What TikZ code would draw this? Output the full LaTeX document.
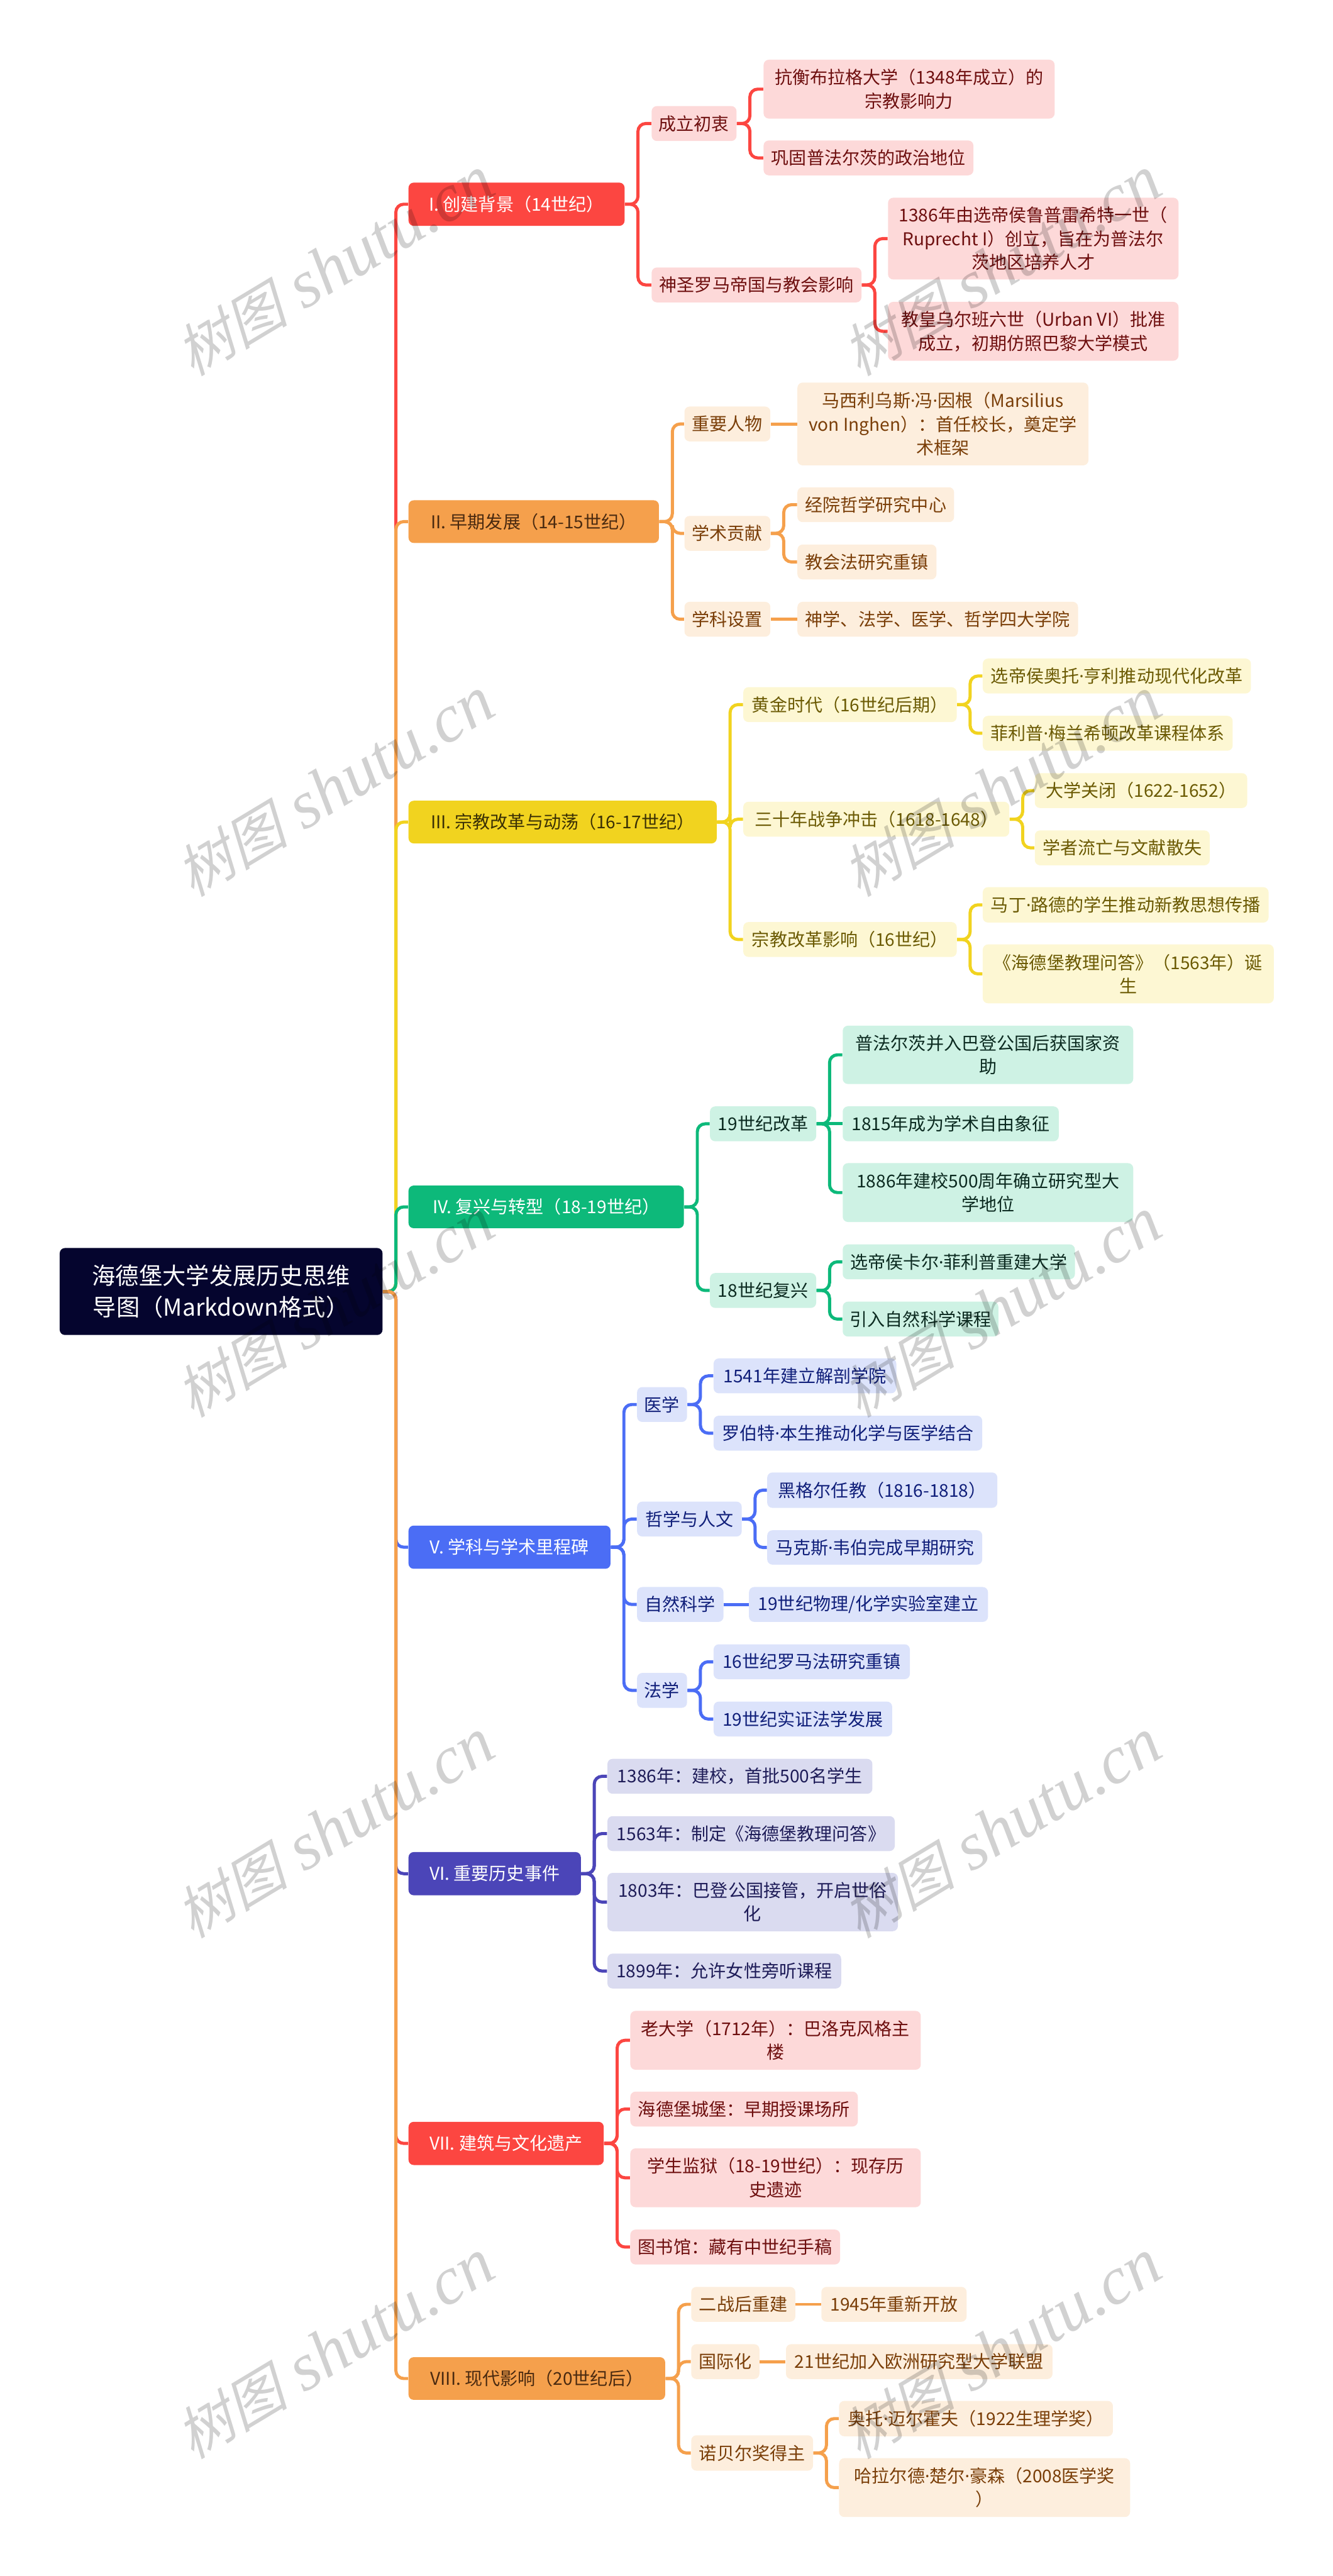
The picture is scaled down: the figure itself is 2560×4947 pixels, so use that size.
\documentclass[tikz,border=0pt]{standalone}
\usepackage{fontspec}
\setmainfont{Noto Sans CJK SC}
\newfontfamily\wmcjk[FakeSlant=0.25]{Noto Sans CJK SC}
\newfontfamily\wmlatin{Liberation Serif}[ItalicFont={Liberation Serif Italic}]
\newfontfamily\dotfont{Noto Sans}
\newcommand{\mdot}{{\dotfont ·}}
\newcommand{\wmtext}{{\wmcjk\fontsize{31}{31}\selectfont 树图}\hspace{9pt}{\wmlatin\itshape\fontsize{37}{37}\selectfont shutu.cn}}
\usepackage{xcolor}
\definecolor{rootC}{HTML}{05052E}
\definecolor{redC}{HTML}{FC4641}
\definecolor{redL}{HTML}{FDD9D9}
\definecolor{redT}{HTML}{6E0F0F}
\definecolor{oraC}{HTML}{F5A04C}
\definecolor{oraL}{HTML}{FDEEDD}
\definecolor{oraT}{HTML}{7A3E08}
\definecolor{oraH}{HTML}{4A2A10}
\definecolor{yelC}{HTML}{F1D31F}
\definecolor{yelL}{HTML}{FDF7D3}
\definecolor{yelT}{HTML}{6B5A03}
\definecolor{yelH}{HTML}{3A3005}
\definecolor{greC}{HTML}{0DB97A}
\definecolor{greL}{HTML}{CEF2E4}
\definecolor{greT}{HTML}{0B2A20}
\definecolor{bluC}{HTML}{4B6DF5}
\definecolor{bluL}{HTML}{DCE3FB}
\definecolor{bluT}{HTML}{101F7A}
\definecolor{indC}{HTML}{4B45B8}
\definecolor{indL}{HTML}{DADBF0}
\definecolor{indT}{HTML}{1E1C58}
\tikzset{
  sz/.style 2 args={minimum width=#1*0.01cm, minimum height=#2*0.01cm},
  box/.style={rectangle, rounded corners=0.1cm, inner sep=0pt, align=center, anchor=north west,
    font=\fontsize{9.64}{12.9}\selectfont},
  item/.style 2 args={box, fill=#1, text=#2},
  link/.style={draw=#1, line width=0.06cm, rounded corners=0.15cm},
  wmark/.style={text=black, opacity=0.18, rotate=31},
}
\begin{document}
\begin{tikzpicture}[x=0.01cm,y=-0.01cm]
  \useasboundingbox (0,0) rectangle (2560,4947);
  \node[box, fill=rootC, text=white, sz={620}{167}, font=\fontsize{12.8}{17}\selectfont] (root) at (114,2396) {海德堡大学发展历史思维\\导图（Markdown格式）};

  % I
  \node[item={redC}{white}, sz={415}{83}] (s1) at (784,350) {I. 创建背景（14世纪）};
  \node[item={redL}{redT}, sz={163}{67}] (s1a) at (1251,203) {成立初衷};
  \node[item={redL}{redT}, sz={559}{113}] (s1a1) at (1466,114) {抗衡布拉格大学（1348年成立）的\\宗教影响力};
  \node[item={redL}{redT}, sz={403}{67}] (s1a2) at (1466,269) {巩固普法尔茨的政治地位};
  \node[item={redL}{redT}, sz={403}{67}] (s1b) at (1251,513) {神圣罗马帝国与教会影响};
  \node[item={redL}{redT}, sz={558}{157}] (s1b1) at (1705,379) {1386年由选帝侯鲁普雷希特一世（\\Ruprecht I）创立，旨在为普法尔\\茨地区培养人才};
  \node[item={redL}{redT}, sz={558}{113}] (s1b2) at (1705,579) {教皇乌尔班六世（Urban VI）批准\\成立，初期仿照巴黎大学模式};

  % II
  \node[item={oraC}{oraH}, sz={481}{82}] (s2) at (784,960) {II. 早期发展（14-15世纪）};
  \node[item={oraL}{oraT}, sz={165}{67}] (s2a) at (1314,780) {重要人物};
  \node[item={oraL}{oraT}, sz={559}{159}] (s2a1) at (1531,734) {马西利乌斯\mdot 冯\mdot 因根（Marsilius\\von Inghen）：首任校长，奠定学\\术框架};
  \node[item={oraL}{oraT}, sz={165}{67}] (s2b) at (1314,990) {学术贡献};
  \node[item={oraL}{oraT}, sz={301}{67}] (s2b1) at (1531,935) {经院哲学研究中心};
  \node[item={oraL}{oraT}, sz={267}{67}] (s2b2) at (1531,1045) {教会法研究重镇};
  \node[item={oraL}{oraT}, sz={165}{67}] (s2c) at (1314,1155) {学科设置};
  \node[item={oraL}{oraT}, sz={539}{67}] (s2c1) at (1531,1155) {神学、法学、医学、哲学四大学院};

  % III
  \node[item={yelC}{yelH}, sz={592}{82}] (s3) at (784,1537) {III. 宗教改革与动荡（16-17世纪）};
  \node[item={yelL}{yelT}, sz={410}{67}] (s3a) at (1427,1319) {黄金时代（16世纪后期）};
  \node[item={yelL}{yelT}, sz={515}{67}] (s3a1) at (1887,1264) {选帝侯奥托\mdot 亨利推动现代化改革};
  \node[item={yelL}{yelT}, sz={480}{67}] (s3a2) at (1887,1374) {菲利普\mdot 梅兰希顿改革课程体系};
  \node[item={yelL}{yelT}, sz={511}{67}] (s3b) at (1427,1539) {三十年战争冲击（1618-1648）};
  \node[item={yelL}{yelT}, sz={408}{67}] (s3b1) at (1987,1484) {大学关闭（1622-1652）};
  \node[item={yelL}{yelT}, sz={336}{67}] (s3b2) at (1987,1594) {学者流亡与文献散失};
  \node[item={yelL}{yelT}, sz={410}{67}] (s3c) at (1427,1770) {宗教改革影响（16世纪）};
  \node[item={yelL}{yelT}, sz={549}{68}] (s3c1) at (1887,1703) {马丁\mdot 路德的学生推动新教思想传播};
  \node[item={yelL}{yelT}, sz={559}{113}] (s3c2) at (1887,1813) {《海德堡教理问答》（1563年）诞\\生};

  % IV
  \node[item={greC}{white}, sz={529}{82}] (s4) at (784,2276) {IV. 复兴与转型（18-19世纪）};
  \node[item={greL}{greT}, sz={204}{67}] (s4a) at (1363,2124) {19世纪改革};
  \node[item={greL}{greT}, sz={558}{112}] (s4a1) at (1618,1969) {普法尔茨并入巴登公国后获国家资\\助};
  \node[item={greL}{greT}, sz={415}{67}] (s4a2) at (1618,2124) {1815年成为学术自由象征};
  \node[item={greL}{greT}, sz={558}{113}] (s4a3) at (1618,2233) {1886年建校500周年确立研究型大\\学地位};
  \node[item={greL}{greT}, sz={204}{67}] (s4b) at (1363,2444) {18世纪复兴};
  \node[item={greL}{greT}, sz={446}{67}] (s4b1) at (1618,2389) {选帝侯卡尔\mdot 菲利普重建大学};
  \node[item={greL}{greT}, sz={299}{67}] (s4b2) at (1618,2499) {引入自然科学课程};

  % V
  \node[item={bluC}{white}, sz={388}{83}] (s5) at (784,2929) {V. 学科与学术里程碑};
  \node[item={bluL}{bluT}, sz={96}{67}] (s5a) at (1223,2663) {医学};
  \node[item={bluL}{bluT}, sz={351}{67}] (s5a1) at (1370,2608) {1541年建立解剖学院};
  \node[item={bluL}{bluT}, sz={516}{67}] (s5a2) at (1370,2718) {罗伯特\mdot 本生推动化学与医学结合};
  \node[item={bluL}{bluT}, sz={201}{67}] (s5b) at (1223,2883) {哲学与人文};
  \node[item={bluL}{bluT}, sz={442}{68}] (s5b1) at (1473,2827) {黑格尔任教（1816-1818）};
  \node[item={bluL}{bluT}, sz={413}{66}] (s5b2) at (1473,2938) {马克斯\mdot 韦伯完成早期研究};
  \node[item={bluL}{bluT}, sz={166}{67}] (s5c) at (1223,3047) {自然科学};
  \node[item={bluL}{bluT}, sz={459}{67}] (s5c1) at (1438,3047) {19世纪物理/化学实验室建立};
  \node[item={bluL}{bluT}, sz={96}{67}] (s5d) at (1223,3212) {法学};
  \node[item={bluL}{bluT}, sz={377}{67}] (s5d1) at (1370,3157) {16世纪罗马法研究重镇};
  \node[item={bluL}{bluT}, sz={343}{67}] (s5d2) at (1370,3267) {19世纪实证法学发展};

  % VI
  \node[item={indC}{white}, sz={331}{83}] (s6) at (784,3556) {VI. 重要历史事件};
  \node[item={indL}{indT}, sz={509}{67}] (s6a) at (1166,3377) {1386年：建校，首批500名学生};
  \node[item={indL}{indT}, sz={552}{67}] (s6b) at (1166,3487) {1563年：制定《海德堡教理问答》};
  \node[item={indL}{indT}, sz={558}{112}] (s6c) at (1166,3596) {1803年：巴登公国接管，开启世俗\\化};
  \node[item={indL}{indT}, sz={449}{67}] (s6d) at (1166,3751) {1899年：允许女性旁听课程};

  % VII
  \node[item={redC}{white}, sz={375}{83}] (s7) at (784,4074) {VII. 建筑与文化遗产};
  \node[item={redL}{redT}, sz={558}{113}] (s7a) at (1210,3861) {老大学（1712年）：巴洛克风格主\\楼};
  \node[item={redL}{redT}, sz={437}{67}] (s7b) at (1210,4016) {海德堡城堡：早期授课场所};
  \node[item={redL}{redT}, sz={558}{113}] (s7c) at (1210,4125) {学生监狱（18-19世纪）：现存历\\史遗迹};
  \node[item={redL}{redT}, sz={403}{67}] (s7d) at (1210,4281) {图书馆：藏有中世纪手稿};

  % VIII
  \node[item={oraC}{oraH}, sz={493}{82}] (s8) at (784,4526) {VIII. 现代影响（20世纪后）};
  \node[item={oraL}{oraT}, sz={200}{67}] (s8a) at (1327,4391) {二战后重建};
  \node[item={oraL}{oraT}, sz={279}{67}] (s8a1) at (1577,4391) {1945年重新开放};
  \node[item={oraL}{oraT}, sz={131}{67}] (s8b) at (1327,4501) {国际化};
  \node[item={oraL}{oraT}, sz={512}{67}] (s8b1) at (1509,4501) {21世纪加入欧洲研究型大学联盟};
  \node[item={oraL}{oraT}, sz={234}{68}] (s8c) at (1327,4676) {诺贝尔奖得主};
  \node[item={oraL}{oraT}, sz={526}{68}] (s8c1) at (1611,4610) {奥托\mdot 迈尔霍夫（1922生理学奖）};
  \node[item={oraL}{oraT}, sz={559}{113}] (s8c2) at (1611,4720) {哈拉尔德\mdot 楚尔\mdot 豪森（2008医学奖\\）};

  % spine, later sections lie over earlier ones
  \draw[link=redC] (root.east) -- ++(25,0) |- (s1.west);
  \draw[link=oraC] (root.east) -- ++(25,0) |- (s2.west);
  \draw[link=yelC] (root.east) -- ++(25,0) |- (s3.west);
  \draw[link=greC] (root.east) -- ++(25,0) |- (s4.west);
  \draw[link=bluC] (root.east) -- ++(25,0) |- (s5.west);
  \draw[link=indC] (root.east) -- ++(25,0) |- (s6.west);
  \draw[link=redC] (root.east) -- ++(25,0) |- (s7.west);
  \draw[link=oraC] (root.east) -- ++(25,0) |- (s8.west);

  % I
  \draw[link=redC] (s1.east) -- ++(25,0) |- (s1a.west);
  \draw[link=redC] (s1.east) -- ++(25,0) |- (s1b.west);
  \draw[link=redC] (s1a.east) -- ++(25,0) |- (s1a1.west);
  \draw[link=redC] (s1a.east) -- ++(25,0) |- (s1a2.west);
  \draw[link=redC] (s1b.east) -- ++(25,0) |- (s1b1.west);
  \draw[link=redC] (s1b.east) -- ++(25,0) |- (s1b2.west);

  % II
  \draw[link=oraC] (s2.east) -- ++(25,0) |- (s2a.west);
  \draw[link=oraC] (s2.east) -- ++(25,0) |- (s2b.west);
  \draw[link=oraC] (s2.east) -- ++(25,0) |- (s2c.west);
  \draw[link=oraC] (s2a.east) -- (s2a1.west);
  \draw[link=oraC] (s2b.east) -- ++(25,0) |- (s2b1.west);
  \draw[link=oraC] (s2b.east) -- ++(25,0) |- (s2b2.west);
  \draw[link=oraC] (s2c.east) -- (s2c1.west);

  % III
  \draw[link=yelC] (s3.east) -- ++(25,0) |- (s3a.west);
  \draw[link=yelC] (s3.east) -- ++(25,0) |- (s3b.west);
  \draw[link=yelC] (s3.east) -- ++(25,0) |- (s3c.west);
  \draw[link=yelC] (s3a.east) -- ++(25,0) |- (s3a1.west);
  \draw[link=yelC] (s3a.east) -- ++(25,0) |- (s3a2.west);
  \draw[link=yelC] (s3b.east) -- ++(25,0) |- (s3b1.west);
  \draw[link=yelC] (s3b.east) -- ++(25,0) |- (s3b2.west);
  \draw[link=yelC] (s3c.east) -- ++(25,0) |- (s3c1.west);
  \draw[link=yelC] (s3c.east) -- ++(25,0) |- (s3c2.west);

  % IV
  \draw[link=greC] (s4.east) -- ++(25,0) |- (s4a.west);
  \draw[link=greC] (s4.east) -- ++(25,0) |- (s4b.west);
  \draw[link=greC] (s4a.east) -- ++(25,0) |- (s4a1.west);
  \draw[link=greC] (s4a.east) -- (s4a2.west);
  \draw[link=greC] (s4a.east) -- ++(25,0) |- (s4a3.west);
  \draw[link=greC] (s4b.east) -- ++(25,0) |- (s4b1.west);
  \draw[link=greC] (s4b.east) -- ++(25,0) |- (s4b2.west);

  % V
  \draw[link=bluC] (s5.east) -- ++(25,0) |- (s5a.west);
  \draw[link=bluC] (s5.east) -- ++(25,0) |- (s5b.west);
  \draw[link=bluC] (s5.east) -- ++(25,0) |- (s5c.west);
  \draw[link=bluC] (s5.east) -- ++(25,0) |- (s5d.west);
  \draw[link=bluC] (s5a.east) -- ++(25,0) |- (s5a1.west);
  \draw[link=bluC] (s5a.east) -- ++(25,0) |- (s5a2.west);
  \draw[link=bluC] (s5b.east) -- ++(25,0) |- (s5b1.west);
  \draw[link=bluC] (s5b.east) -- ++(25,0) |- (s5b2.west);
  \draw[link=bluC] (s5c.east) -- (s5c1.west);
  \draw[link=bluC] (s5d.east) -- ++(25,0) |- (s5d1.west);
  \draw[link=bluC] (s5d.east) -- ++(25,0) |- (s5d2.west);

  % VI
  \draw[link=indC] (s6.east) -- ++(25,0) |- (s6a.west);
  \draw[link=indC] (s6.east) -- ++(25,0) |- (s6b.west);
  \draw[link=indC] (s6.east) -- ++(25,0) |- (s6c.west);
  \draw[link=indC] (s6.east) -- ++(25,0) |- (s6d.west);

  % VII
  \draw[link=redC] (s7.east) -- ++(25,0) |- (s7a.west);
  \draw[link=redC] (s7.east) -- ++(25,0) |- (s7b.west);
  \draw[link=redC] (s7.east) -- ++(25,0) |- (s7c.west);
  \draw[link=redC] (s7.east) -- ++(25,0) |- (s7d.west);

  % VIII
  \draw[link=oraC] (s8.east) -- ++(25,0) |- (s8a.west);
  \draw[link=oraC] (s8.east) -- ++(25,0) |- (s8b.west);
  \draw[link=oraC] (s8.east) -- ++(25,0) |- (s8c.west);
  \draw[link=oraC] (s8a.east) -- (s8a1.west);
  \draw[link=oraC] (s8b.east) -- (s8b1.west);
  \draw[link=oraC] (s8c.east) -- ++(25,0) |- (s8c1.west);
  \draw[link=oraC] (s8c.east) -- ++(25,0) |- (s8c2.west);

  % watermark
  \node[wmark] (w1) at (643,512) {\wmtext};
  \node[wmark] (w2) at (1924,512) {\wmtext};
  \node[wmark] (w3) at (643,1512) {\wmtext};
  \node[wmark] (w4) at (1924,1512) {\wmtext};
  \node[wmark] (w5) at (643,2512) {\wmtext};
  \node[wmark] (w6) at (1924,2512) {\wmtext};
  \node[wmark] (w7) at (643,3512) {\wmtext};
  \node[wmark] (w8) at (1924,3512) {\wmtext};
  \node[wmark] (w9) at (643,4512) {\wmtext};
  \node[wmark] (w10) at (1924,4512) {\wmtext};
\end{tikzpicture}
\end{document}
